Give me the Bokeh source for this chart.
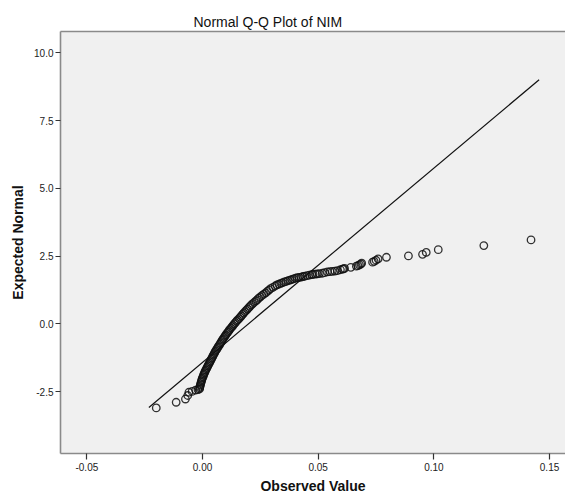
from bokeh.plotting import figure
from bokeh.models import Range1d, FixedTicker, NumeralTickFormatter, LinearAxis
from bokeh.embed import file_html
from bokeh.resources import INLINE

title_text = "Normal Q-Q Plot of NIM"
x_label = "Observed Value"
y_label = "Expected Normal"
x_ticks = [-0.05, 0.00, 0.05, 0.10, 0.15]
y_ticks = [-2.5, 0.0, 2.5, 5.0, 7.5, 10.0]

# Lower tail (observed, expected normal)
tail_low_x = [-0.0200, -0.0114, -0.0074, -0.0064, -0.0059, -0.0045, -0.0030, -0.0020]
tail_low_y = [-3.10, -2.89, -2.77, -2.64, -2.52, -2.49, -2.44, -2.42]

# Dense central band
band_x = [-0.0013, -0.0012, -0.0011, -0.0009, -0.0008, -0.0006, -0.0004, -0.0003, -0.0001, 0.0002,
          0.0004, 0.0006, 0.0009, 0.0011, 0.0014, 0.0017, 0.0020, 0.0023, 0.0026, 0.0029,
          0.0032, 0.0035, 0.0038, 0.0041, 0.0044, 0.0047, 0.0050, 0.0053, 0.0056, 0.0060,
          0.0064, 0.0067, 0.0071, 0.0075, 0.0078, 0.0082, 0.0085, 0.0089, 0.0093, 0.0097,
          0.0101, 0.0105, 0.0110, 0.0114, 0.0118, 0.0123, 0.0128, 0.0132, 0.0137, 0.0142,
          0.0147, 0.0152, 0.0158, 0.0163, 0.0168, 0.0173, 0.0178, 0.0183, 0.0189, 0.0194,
          0.0200, 0.0205, 0.0211, 0.0217, 0.0224, 0.0231, 0.0237, 0.0243, 0.0250, 0.0257,
          0.0265, 0.0273, 0.0280, 0.0287, 0.0294, 0.0304, 0.0314]
band_y = [-2.40, -2.35, -2.30, -2.25, -2.20, -2.15, -2.10, -2.05, -2.00, -1.95,
          -1.90, -1.85, -1.80, -1.75, -1.70, -1.65, -1.60, -1.55, -1.50, -1.45,
          -1.40, -1.35, -1.30, -1.25, -1.20, -1.15, -1.10, -1.05, -1.00, -0.95,
          -0.90, -0.85, -0.80, -0.75, -0.70, -0.65, -0.60, -0.55, -0.50, -0.45,
          -0.40, -0.35, -0.30, -0.25, -0.20, -0.15, -0.10, -0.05, 0.00, 0.05,
          0.10, 0.15, 0.20, 0.25, 0.30, 0.35, 0.40, 0.45, 0.50, 0.55,
          0.60, 0.65, 0.70, 0.75, 0.80, 0.85, 0.90, 0.95, 1.00, 1.05,
          1.10, 1.15, 1.20, 1.25, 1.30, 1.35, 1.40]

# Bend towards the upper tail
bend_x = [0.0322, 0.0330, 0.0338, 0.0346, 0.0354, 0.0362, 0.0370, 0.0378, 0.0386, 0.0394,
          0.0402, 0.0410, 0.0418, 0.0426, 0.0434, 0.0442, 0.0452, 0.0462, 0.0472]
bend_y = [1.44, 1.47, 1.50, 1.52, 1.55, 1.57, 1.60, 1.62, 1.64, 1.66,
          1.69, 1.71, 1.72, 1.73, 1.75, 1.76, 1.78, 1.80, 1.82]

# Upper tail
tail_high_x = [0.0478, 0.0488, 0.0496, 0.0505, 0.0518, 0.0528, 0.0540, 0.0551, 0.0561, 0.0572,
               0.0583, 0.0596, 0.0605, 0.0609, 0.0614, 0.0641, 0.0665, 0.0672, 0.0678, 0.0684,
               0.0688, 0.0735, 0.0742, 0.0750, 0.0759, 0.0795, 0.0890, 0.0951, 0.0967, 0.1019,
               0.1216, 0.1420]
tail_high_y = [1.83, 1.84, 1.85, 1.86, 1.87, 1.89, 1.92, 1.93, 1.94, 1.95,
               1.97, 2.00, 2.02, 2.03, 2.05, 2.09, 2.13, 2.15, 2.18, 2.21,
               2.24, 2.28, 2.31, 2.35, 2.40, 2.46, 2.51, 2.57, 2.64, 2.74,
               2.89, 3.10]

# Reference line end points
line_x = [-0.0232, 0.1455]
line_y = [-3.08, 9.01]

obs_x = tail_low_x + band_x + bend_x + tail_high_x
obs_y = tail_low_y + band_y + bend_y + tail_high_y

BORDER = "#8a8a8a"

p = figure(width=565, height=502, output_backend="svg", toolbar_location=None,
           x_range=Range1d(-0.0614, 0.1569), y_range=Range1d(-4.78, 10.79),
           title=title_text, x_axis_label=x_label, y_axis_label=y_label)

p.min_border_left = 60
p.min_border_right = 0
p.min_border_top = 31
p.min_border_bottom = 49
p.background_fill_color = "#f0f0f0"
p.border_fill_color = "white"
p.outline_line_color = None
p.grid.visible = False

p.title.text_font = "Liberation Sans"
p.title.text_font_size = "14px"
p.title.text_font_style = "normal"
p.title.text_color = "#111111"
p.title.align = "left"
p.title.offset = 133
p.title.standoff = 4

for ax in (p.xaxis[0], p.yaxis[0]):
    ax.axis_line_color = BORDER
    ax.axis_line_width = 1.6
    ax.major_tick_line_color = "#333333"
    ax.major_tick_line_width = 1.2
    ax.major_tick_out = 6
    ax.major_tick_in = 0
    ax.minor_tick_line_color = None
    ax.major_label_text_font = "Liberation Sans"
    ax.major_label_text_font_size = "10px"
    ax.major_label_text_color = "#222222"
    ax.axis_label_text_font = "Liberation Sans"
    ax.axis_label_text_font_size = "14px"
    ax.axis_label_text_font_style = "bold"
    ax.axis_label_text_color = "#111111"

p.xaxis[0].ticker = FixedTicker(ticks=x_ticks)
p.yaxis[0].ticker = FixedTicker(ticks=y_ticks)
p.xaxis[0].formatter = NumeralTickFormatter(format="0.00")
p.yaxis[0].formatter = NumeralTickFormatter(format="0.0")
p.xaxis[0].major_label_standoff = 3
p.xaxis[0].axis_label_standoff = 4
p.yaxis[0].major_tick_out = 5
p.yaxis[0].major_label_standoff = 2
p.yaxis[0].axis_label_standoff = 5

# top border of the plot area (no right border: it is cut off in the original)
top_axis = LinearAxis(ticker=FixedTicker(ticks=[]), major_label_text_font_size="0px",
                      major_tick_line_color=None, minor_tick_line_color=None,
                      axis_line_color=BORDER, axis_line_width=1.6,
                      major_label_standoff=0)
p.add_layout(top_axis, "above")

p.line(line_x, line_y, line_color="#111111", line_width=1.2)
p.scatter(obs_x, obs_y, marker="circle", size=7.5, fill_color=None,
          line_color="#111111", line_width=1.3, line_alpha=0.85)

open("out.html", "w").write(file_html(p, INLINE))
